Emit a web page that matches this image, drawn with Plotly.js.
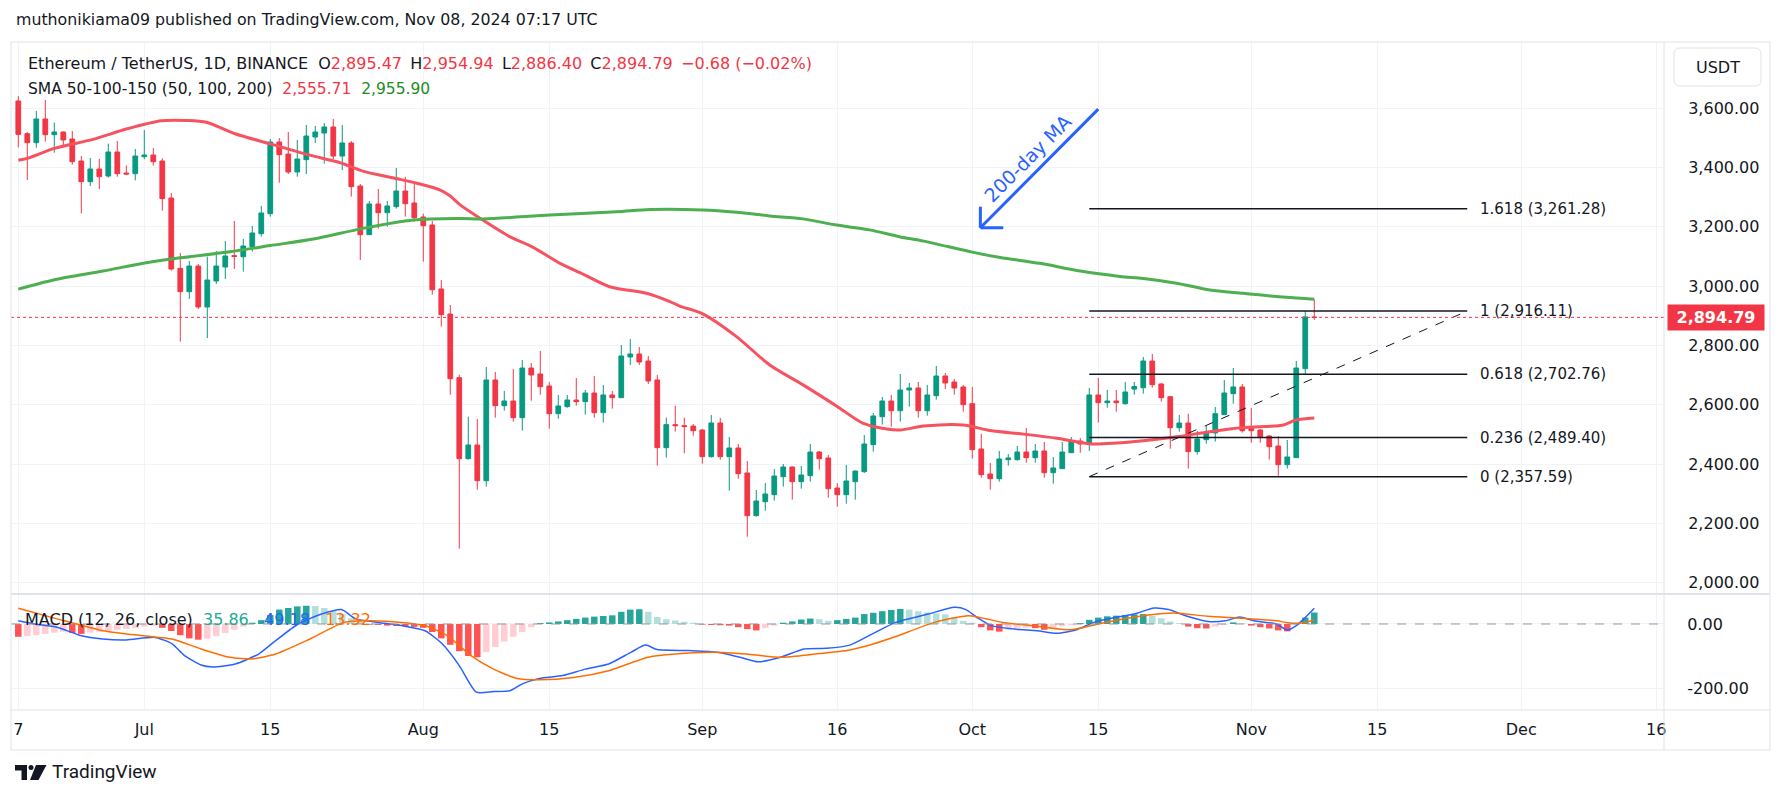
<!DOCTYPE html>
<html><head><meta charset="utf-8">
<script src="https://cdn.plot.ly/plotly-3.0.1.min.js"></script>
<style>html,body{margin:0;padding:0;background:#fff;}#chart{width:1781px;height:799px;}</style>
</head><body><div id="chart"></div>
<script>
// ---------- DATA ----------
const startDate = '2024-06-17'; // first visible daily candle
const openP = [
3624.6,3514.4,3484.0,3563.9,3511.0,3520.0,3496.4,3422.2,3352.5,3395.2,
3371.6,3452.6,3381.7,3379.5,3436.8,3442.4,3422.2,3297.4,3060.2,2981.5,
3068.0,2929.8,3017.5,3064.7,3103.0,3099.5,3133.3,3177.1,3244.6,3486.3,
3445.8,3385.1,3426.7,3503.2,3516.7,3537.0,3439.0,3483.0,3337.9,3173.7,
3277.2,3248.0,3268.2,3321.0,3280.6,3233.4,3206.4,2990.5,2906.2,2691.4,
2418.2,2464.3,2344.0,2683.6,2597.0,2612.7,2556.5,2724.0,2703.8,2663.3,
2570.0,2593.7,2616.0,2610.5,2639.7,2573.4,2633.0,2624.0,2761.2,2771.2,
2747.6,2683.6,2455.3,2533.0,2529.5,2528.0,2514.9,2425.0,2538.5,2425.0,
2454.2,2369.9,2226.0,2273.2,2296.8,2357.5,2390.1,2340.6,2360.9,2440.7,
2420.5,2319.3,2296.8,2340.6,2374.4,2465.5,2559.9,2612.7,2580.0,2649.8,
2656.6,2580.0,2630.7,2697.0,2676.8,2660.0,2603.7,2450.8,2366.5,2350.8,
2414.9,2414.9,2440.7,2421.6,2444.1,2371.0,2384.5,2438.4,2477.8,2467.7,
2633.0,2607.1,2612.7,2603.7,2652.8,2657.6,2747.6,2670.1,2627.3,2522.8,
2538.5,2441.9,2482.4,2505.0,2566.6,2637.5,2660.0,2521.6,2514.9,2494.7,
2460.9,2398.0,2421.6,2721.8,2895.47];
const highP = [
3641,3520,3590.9,3628,3551.5,3522,3523.4,3439,3432.3,3429,
3480.7,3489.7,3407.6,3462.7,3526.8,3466,3431.2,3314.3,3112,3085,
3074.8,3099.5,3118.7,3152.4,3219.8,3159,3203,3270.5,3496.4,3499.8,
3520,3493,3543.6,3540.3,3550.4,3563.9,3543.6,3489.7,3344.6,3287.3,
3327.8,3287.3,3398.6,3368.3,3351.4,3244.6,3219.8,3020.8,2936.5,2701.5,
2559.9,2552,2727.4,2710.5,2646.5,2720.6,2751,2740.9,2781.4,2676.8,
2633,2633,2690.3,2649.8,2697,2666.7,2646.5,2801.6,2821.8,2794.8,
2764.5,2700.4,2556.5,2597,2556.5,2535,2518,2565.5,2555.4,2491.3,
2467.7,2410.3,2312.6,2336,2383.4,2400.2,2392,2393.5,2467.7,2444.1,
2430.6,2336,2397,2378,2498,2572.2,2626.2,2633,2703.8,2673.4,
2676.8,2666.7,2730.8,2707.2,2686.9,2666.7,2660,2501.4,2403.6,2444.1,
2434,2460.9,2521.6,2467.7,2474.4,2423.8,2474.4,2491.3,2488,2656.6,
2690.3,2649.8,2649.8,2676.8,2676.8,2761.2,2771.2,2673.4,2629.6,2565.5,
2570,2511.6,2528.4,2592.5,2683.6,2724,2670.1,2589.1,2518.2,2498,
2494.7,2481.2,2747.6,2916.3,2954.94];
const lowP = [
3468,3358,3467.2,3487.5,3450.3,3476,3409.9,3245.7,3337.9,3327.8,
3366,3369.4,3375,3357,3427.9,3406.5,3254.7,3052.3,2812.8,2956.8,
2923,2825.2,3007.4,3024.2,3058,3049,3116.4,3167,3234.5,3349.1,
3378.4,3369.4,3378.4,3483,3413.2,3429,3391.9,3302,3088.3,3173.7,
3194,3200.7,3261.4,3234.5,3217.6,3082.7,2971.4,2863.5,2634,2114.6,
2415,2313.7,2323.8,2556.5,2580,2543,2512.7,2613.8,2634,2519.4,
2553,2590,2597,2566.6,2556.5,2539.7,2586.9,2624,2734.2,2734.2,
2670.1,2394.6,2421.6,2509.3,2436.2,2495.8,2401.3,2422,2414.9,2310.3,
2350.8,2155,2222.6,2242.8,2276.6,2323.8,2279.9,2317,2340.6,2381.1,
2286.7,2256.3,2266.4,2279.9,2370,2441.9,2533,2526,2543,2593.6,
2556.5,2563.3,2617.2,2653.2,2634,2576.7,2418.2,2354.2,2313.7,2340.6,
2394.6,2411.5,2404.7,2404.7,2354.2,2333.9,2384.5,2438.4,2438.4,2444.1,
2539.7,2590,2576.7,2600.4,2634,2637.5,2657.7,2610.5,2451.9,2509.3,
2384.5,2431.7,2468.8,2475.6,2566.6,2603.7,2506,2472.1,2472.1,2414.9,
2360.9,2384.5,2421.6,2703.8,2886.4];
const closeP = [
3512,3484.1,3563.9,3511,3520,3493,3420,3352.5,3395.2,3369.4,
3452.6,3379.5,3378.4,3439,3442.4,3420,3295.2,3058,2981.5,3068,
2929.8,3020.8,3068,3101.8,3100,3135.5,3179.4,3246.8,3486.3,3443.6,
3385.1,3429,3506.5,3520,3537,3439,3483,3335.7,3173.7,3277.2,
3248,3270.4,3321,3278.3,3231.1,3204.1,2988.2,2903.9,2688,2418.2,
2464.3,2344,2683.6,2597,2612.7,2556.5,2724,2700.4,2661,2570,
2595.9,2616,2610.5,2639.7,2573.4,2633,2624,2764.5,2771.2,2744.3,
2680.2,2455.3,2533,2529.5,2526.5,2512.6,2425,2538.5,2425,2454.2,
2367.6,2226,2275.4,2299,2359.8,2390.1,2340.6,2363.1,2440.7,2418.2,
2317,2296.8,2342.9,2376.6,2467.7,2562.1,2612.7,2580,2649.8,2656.6,
2580,2633,2697,2673.4,2656.6,2600.4,2448.6,2364.2,2350.8,2417.1,
2420.5,2440.7,2421.6,2444.1,2371,2386.8,2440.7,2477.8,2467.7,2633,
2607.1,2612.7,2607.1,2643.1,2661.7,2747.6,2667.8,2624,2522.8,2538.5,
2441.9,2484.6,2508.2,2570,2639.7,2660,2512.7,2512.6,2492.4,2458.7,
2398,2423.8,2724,2896.1,2894.79];

// SMA lines (day index from startDate, value)
const sma50Idx = [0,1,4,8.3,12,15.9,18.7,20.9,24,28,32.4,35.7,38.3,42,44.3,46.9,48,49.1,51.3,54.6,57.2,60.2,62.8,65.7,69.8,72.4,73.5,76.1,79.8,83.5,87.2,90.9,93.9,96.5,98,100.6,105,108,111.7,115.4,119.1,122,125,128.7,132.4,136.1,140.6,142,144];
const sma50Val = [3425,3431,3465,3495,3530,3558,3559,3553,3515,3480,3442,3417,3388,3363,3347,3324,3304,3274,3229,3167,3131,3077,3040,2998,2976,2948,2933,2906,2830,2734,2667,2596,2537,2518,2515,2528,2532,2513,2501,2487,2468,2471,2479,2492,2509,2523,2532,2549,2555.71];
const sma200Idx = [0,3.9,9.4,13.9,17.6,23.5,28,32.8,38.3,43.9,49.1,51.7,59.1,66.5,70.2,76.1,79.8,83.5,87.2,90.9,94.6,97.9,100.6,106.1,109.1,113.5,118,122.4,125,128.7,132.4,136.1,139.8,144];
const sma200Val = [2990,3021,3051,3077,3094,3116,3137,3159,3195,3223,3228,3227,3240,3251,3259,3257,3249,3237,3227,3206,3190,3167,3152,3114,3097,3077,3051,3033,3026,3010,2987,2976,2965,2955.9];

// MACD (12, 26, close)
const macdIdx = [0,1.8,4.3,6.9,9.4,12,15.2,17.1,18.4,20.3,21.6,24.1,26.7,28.6,31.1,33.7,35.9,37.5,40,42.6,45.2,47.1,49,50.9,52.8,54.7,56,57.9,60.5,63,65.6,68.1,69.7,71,74.5,77.7,80.2,82.2,84.7,87.3,89.8,92.4,94.9,97.5,101.1,104,105.3,106.5,108.1,110.7,113.2,115.4,117.6,119.5,122,124,126.2,127.8,129.7,132.2,134.1,135.7,137.3,139.8,141,142,143,144];
const macdVal = [10,0,-10,-36,-47,-50,-42,-62,-97,-128,-134,-125,-94,-52,0,31,45,16,5,-5,-21,-62,-130,-213,-211,-208,-187,-170,-161,-141,-125,-88,-66,-80,-83,-88,-104,-118,-104,-78,-76,-66,-31,5,31,52,45,21,-5,-16,-21,-29,-18,5,21,31,50,45,26,8,10,22,10,0,-19,-5,20,49.18];
const signalIdx = [0,4.3,9.4,13.9,17.1,20.3,23.5,26,28.6,32.4,36.2,38.8,42.6,45.2,47.7,50.3,52.8,55.4,57.9,61.7,65.6,70,74.5,78.3,80.9,84.7,88.5,92.4,94.9,97.5,101.8,105.6,109.4,113.2,117,120.8,124.6,128.4,132.2,136,139.8,141,142,143,144];
const signalVal = [49,16,-21,-37,-47,-78,-104,-109,-94,-47,5,10,5,-5,-37,-99,-141,-170,-174,-167,-146,-104,-91,-89,-94,-104,-94,-81,-63,-39,5,26,5,-7,-18,5,24,34,24,18,10,4,2,4.4,13.32];
const histVal = [
-40,-38,-35,-31,-27,-24,-28,-31,-27,-24,
-21,-18,-15,-12,-8,-5,-12,-22,-35,-45,
-49,-46,-38,-28,-18,-8,4,12,28,45,
50,55,57,56,50,40,31,18,8,-2,
-3,-5,-6,-7,-9,-12,-25,-45,-65,-85,
-100,-104,-88,-72,-55,-40,-25,-10,3,5,
8,12,16,20,23,25,27,38,45,46,
38,22,15,11,7,4,-2,-3,-4,-5,
-10,-16,-20,-12,-5,4,8,14,17,15,
10,12,16,20,31,35,40,44,47,45,
40,36,33,30,20,10,4,-10,-20,-24,
-18,-14,-12,-13,-18,-10,-7,-4,3,13,
20,24,26,28,30,31,25,18,8,3,
-8,-13,-14,-8,-3,5,2,-5,-10,-14,
-20,-23,-3,20,35.86];

// Fibonacci retracement drawn on the chart
const fibLevels = ['0','0.236','0.618','1','1.618'];
const fibPrices = [2357.59,2489.40,2702.76,2916.11,3261.28];
const fibStartIdx = 119, fibEndIdx = 161;

const priceTicks = [2000,2200,2400,2600,2800,3000,3200,3400,3600];
const xTickIdx = [0,14,28,45,59,76,91,106,120,137,151,167,182];
const xTickText = ['7','Jul','15','Aug','15','Sep','16','Oct','15','Nov','15','Dec','16'];
const lastPrice = 2894.79;

// ---------- helpers ----------
const t0 = Date.parse(startDate + 'T00:00:00Z');
function dateAt(i){ return new Date(t0 + i*86400000).toISOString().replace('T',' ').replace('Z',''); }
function fmt(n){ return n.toLocaleString('en-US',{minimumFractionDigits:2,maximumFractionDigits:2}); }
const PL=11, PR=1664, PT=42, PB=710;
function px(x){ return (x-PL)/(PR-PL); }
function py(y){ return (PB-y)/(PB-PT); }

const candleDates = openP.map((_,k)=>dateAt(k));
const histColors = histVal.map((v,k)=>{const p = k>0?histVal[k-1]:v; if(v>=0) return v>=p?'#26A69A':'#B2DFDB'; return v<=p?'#FF5252':'#FFCDD2';});

const traces = [
 {type:'candlestick', x:candleDates, open:openP, high:highP, low:lowP, close:closeP, xaxis:'x', yaxis:'y',
  increasing:{line:{color:'#089981',width:1},fillcolor:'#089981'},
  decreasing:{line:{color:'#F23645',width:1},fillcolor:'#F23645'},
  whiskerwidth:0, hoverinfo:'skip', showlegend:false},
 {type:'scatter', mode:'lines', x:sma50Idx.map(dateAt), y:sma50Val, xaxis:'x', yaxis:'y',
  line:{color:'#F7525F',width:3,shape:'spline',smoothing:0.8}, hoverinfo:'skip'},
 {type:'scatter', mode:'lines', x:sma200Idx.map(dateAt), y:sma200Val, xaxis:'x', yaxis:'y',
  line:{color:'#4CAF50',width:3,shape:'spline',smoothing:0.8}, hoverinfo:'skip'},
 {type:'bar', x:candleDates, y:histVal, xaxis:'x', yaxis:'y2', width:0.72*86400000,
  marker:{color:histColors,line:{width:0}}, hoverinfo:'skip'},
 {type:'scatter', mode:'lines', x:macdIdx.map(dateAt), y:macdVal, xaxis:'x', yaxis:'y2',
  line:{color:'#2962FF',width:1.5,shape:'spline',smoothing:0.6}, hoverinfo:'skip'},
 {type:'scatter', mode:'lines', x:signalIdx.map(dateAt), y:signalVal, xaxis:'x', yaxis:'y2',
  line:{color:'#FF6D00',width:1.5,shape:'spline',smoothing:0.6}, hoverinfo:'skip'}
];

const frame = '#E0E3EB';
function pline(x0,y0,x1,y1,w){ return {type:'line',xref:'paper',yref:'paper',x0:px(x0),y0:py(y0),x1:px(x1),y1:py(y1),line:{color:frame,width:w||1}}; }
const shapes = [];
fibPrices.forEach(p=>shapes.push({type:'line',xref:'x',yref:'y',x0:dateAt(fibStartIdx),x1:dateAt(fibEndIdx),y0:p,y1:p,line:{color:'#131722',width:1.5}}));
shapes.push({type:'line',xref:'x',yref:'y',x0:dateAt(fibStartIdx),y0:fibPrices[0],x1:dateAt(fibEndIdx),y1:fibPrices[3],line:{color:'#131722',width:1,dash:'dash'}});
shapes.push({type:'line',xref:'paper',yref:'y',x0:0,x1:1,y0:lastPrice,y1:lastPrice,line:{color:'#F23645',width:1,dash:'dot'}});
shapes.push({type:'line',xref:'paper',yref:'y2',x0:0,x1:1,y0:0,y1:0,line:{color:'#9598A1',width:1,dash:'dash'}});
// hand-drawn arrow "200-day MA"
const arrowC = '#2962FF';
shapes.push({type:'line',xref:'x',yref:'y',x0:dateAt(120),y0:3597,x1:dateAt(106.9),y1:3197,line:{color:arrowC,width:3}});
shapes.push({type:'line',xref:'x',yref:'y',x0:dateAt(106.9),y0:3197,x1:dateAt(106.9),y1:3268,line:{color:arrowC,width:3}});
shapes.push({type:'line',xref:'x',yref:'y',x0:dateAt(106.9),y0:3197,x1:dateAt(109.45),y1:3197,line:{color:arrowC,width:3}});
// frame
shapes.push(pline(11,42,1770,42));
shapes.push(pline(11,42,11,750));
shapes.push(pline(1770,42,1770,750));
shapes.push(pline(11,750,1770,750));
shapes.push(pline(1664,42,1664,750));
shapes.push(pline(11,710,1770,710));
shapes.push(pline(11,594,1770,594,2));
// USDT rounded box
shapes.push({type:'path',xref:'paper',yref:'paper',line:{color:frame,width:1},fillcolor:'rgba(0,0,0,0)',
 path:`M ${px(1680)},${py(48)} L ${px(1755)},${py(48)} Q ${px(1761)},${py(48)} ${px(1761)},${py(54)} L ${px(1761)},${py(80)} Q ${px(1761)},${py(86)} ${px(1755)},${py(86)} L ${px(1680)},${py(86)} Q ${px(1674)},${py(86)} ${px(1674)},${py(80)} L ${px(1674)},${py(54)} Q ${px(1674)},${py(48)} ${px(1680)},${py(48)} Z`});
// TradingView logo mark
const lc = '#131722';
shapes.push({type:'rect',xref:'paper',yref:'paper',x0:px(15),x1:px(27),y0:py(765),y1:py(770.5),fillcolor:lc,line:{width:0}});
shapes.push({type:'rect',xref:'paper',yref:'paper',x0:px(21.5),x1:px(27),y0:py(765),y1:py(780),fillcolor:lc,line:{width:0}});
shapes.push({type:'circle',xref:'paper',yref:'paper',x0:px(28.5),x1:px(33.5),y0:py(765),y1:py(770),fillcolor:lc,line:{width:0}});
shapes.push({type:'path',xref:'paper',yref:'paper',fillcolor:lc,line:{width:0},
 path:`M ${px(36)},${py(765)} L ${px(46.5)},${py(765)} L ${px(38.5)},${py(780)} L ${px(30)},${py(780)} Z`});

const red='#F23645';
const nb='\u00A0';
const gap = nb+'\u2009';
const annotations = [
 {xref:'paper',yref:'paper',x:px(14),y:py(20),xanchor:'left',yanchor:'middle',showarrow:false,
  text:'muthonikiama09 published on TradingView.com, Nov 08, 2024 07:17 UTC',font:{size:15.8,color:'#131722'}},
 {xref:'paper',yref:'paper',x:px(26),y:py(64),xanchor:'left',yanchor:'middle',showarrow:false,
  text:`Ethereum / TetherUS, 1D, BINANCE${nb}${nb}O<span style="color:${red}">2,895.47</span>${gap}H<span style="color:${red}">2,954.94</span>${gap}L<span style="color:${red}">2,886.40</span>${gap}C<span style="color:${red}">2,894.79</span>${gap}<span style="color:${red}">\u22120.68 (\u22120.02%)</span>`,
  font:{size:16,color:'#131722'}},
 {xref:'paper',yref:'paper',x:px(26),y:py(89),xanchor:'left',yanchor:'middle',showarrow:false,
  text:`SMA 50-100-150 (50, 100, 200)${nb}${nb}<span style="color:${red}">2,555.71</span>${nb}${nb}<span style="color:#1E8C1E">2,955.90</span>`,
  font:{size:15.5,color:'#131722'}},
 {xref:'paper',yref:'paper',x:px(23),y:py(619),xanchor:'left',yanchor:'middle',showarrow:false,
  text:`MACD (12, 26, close)${nb}${nb}<span style="color:#22AB94">35.86</span>${nb}${nb}${nb}<span style="color:#2962FF">49.18</span>${nb}${nb}${nb}<span style="color:#FF6D00">13.32</span>`,
  font:{size:16,color:'#131722'}},
 {xref:'x',yref:'y',x:dateAt(112.2),y:3431.5,textangle:-45,showarrow:false,text:'200-day MA',font:{size:19,color:arrowC}},
 {xref:'paper',yref:'y',x:px(1667),y:lastPrice,xanchor:'left',yanchor:'middle',showarrow:false,
  text:'<b>2,894.79</b>',bgcolor:red,width:96,height:25,borderpad:0,font:{size:16,color:'#ffffff'}},
 {xref:'paper',yref:'paper',x:px(1717.5),y:py(67),xanchor:'center',yanchor:'middle',showarrow:false,text:'USDT',font:{size:16,color:'#131722'}},
 {xref:'paper',yref:'paper',x:px(50),y:py(772),xanchor:'left',yanchor:'middle',showarrow:false,text:'TradingView',font:{family:'Roboto',size:19,color:'#131722'}}
];
fibPrices.forEach((p,k)=>annotations.push({xref:'x',yref:'y',x:dateAt(fibEndIdx),y:p,xanchor:'left',yanchor:'middle',xshift:11,showarrow:false,
 text:`${fibLevels[k]} (${fmt(p)})`,font:{size:15,color:'#131722'}}));

const layout = {
 width:1781, height:799,
 margin:{l:PL,r:1781-PR,t:PT,b:799-PB,pad:0},
 paper_bgcolor:'#ffffff', plot_bgcolor:'#ffffff',
 font:{family:'DejaVu Sans',size:16,color:'#131722'},
 showlegend:false, hovermode:false, dragmode:false,
 boxgap:0.25,
 xaxis:{type:'date',range:[dateAt(-0.81),dateAt(182.86)],anchor:'y2',tickmode:'array',
  tickvals:xTickIdx.map(dateAt),ticktext:xTickText,showgrid:true,gridcolor:'#F0F3FA',gridwidth:1,
  zeroline:false,showline:false,ticks:'outside',ticklen:5,tickcolor:'rgba(0,0,0,0)',tickfont:{size:16,color:'#131722'},rangeslider:{visible:false},fixedrange:true},
 yaxis:{domain:[py(593),1],range:[1965.1,3823.6],side:'right',anchor:'x',tickmode:'array',
  tickvals:priceTicks,ticktext:priceTicks.map(fmt),showgrid:true,gridcolor:'#F0F3FA',zeroline:false,
  ticks:'outside',ticklen:20,tickcolor:'rgba(0,0,0,0)',tickfont:{size:16,color:'#131722'},fixedrange:true},
 yaxis2:{domain:[0,py(595)],range:[-268.75,90.6],side:'right',anchor:'x',tickmode:'array',
  tickvals:[0,-200],ticktext:['0.00','-200.00'],showgrid:true,gridcolor:'#F0F3FA',zeroline:false,
  ticks:'outside',ticklen:19,tickcolor:'rgba(0,0,0,0)',tickfont:{size:16,color:'#131722'},fixedrange:true},
 shapes:shapes, annotations:annotations
};
Plotly.newPlot('chart', traces, layout, {displayModeBar:false, staticPlot:true});
</script>
</body></html>
